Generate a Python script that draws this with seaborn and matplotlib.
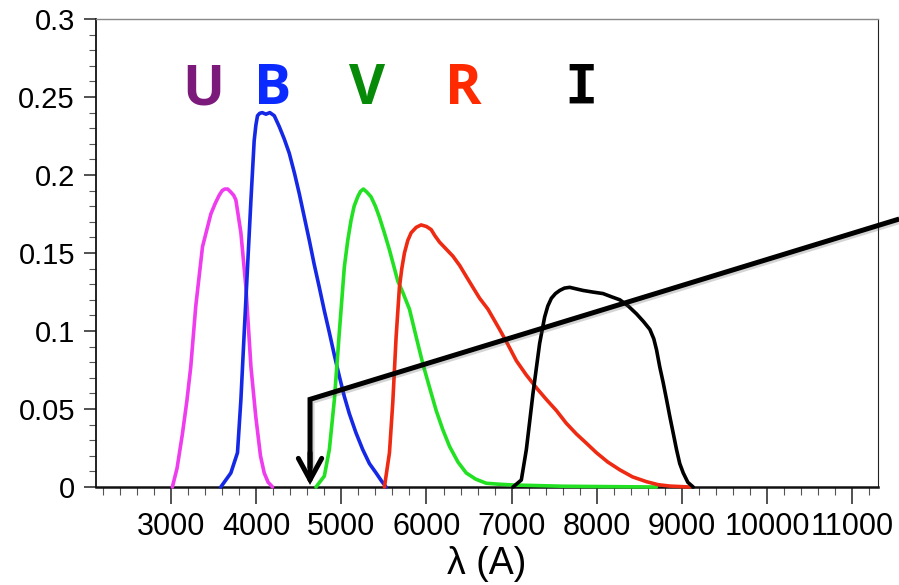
import matplotlib
matplotlib.use("Agg")
import numpy as np
import pandas as pd
import matplotlib.pyplot as plt
import matplotlib.patheffects as pe
from matplotlib.ticker import MultipleLocator, FixedLocator, FixedFormatter
import seaborn as sns

# Johnson-Cousins UBVRI filter transmission curves (wavelength in Angstrom)
u_wave = [3015, 3070, 3133, 3185, 3231, 3290, 3369, 3467, 3520, 3565, 3600, 3631, 3665, 3702, 3735, 3761,
          3820, 3879, 3938, 3995, 4050, 4094, 4140, 4192]
u_trans = [0.0, 0.012, 0.034, 0.055, 0.077, 0.116, 0.154, 0.175, 0.182, 0.187, 0.190, 0.191, 0.191, 0.189,
           0.187, 0.184, 0.163, 0.128, 0.077, 0.045, 0.020, 0.009, 0.003, 0.0]

b_wave = [3584, 3702, 3780, 3820, 3859, 3898, 3938, 3976, 3996, 4015, 4040, 4070, 4114, 4160, 4212, 4271,
          4330, 4388, 4450, 4506, 4565, 4624, 4680, 4741, 4800, 4859, 4920, 4976, 5035, 5094, 5170, 5251,
          5330, 5408, 5470, 5525]
b_trans = [0.0, 0.009, 0.022, 0.056, 0.099, 0.141, 0.184, 0.222, 0.232, 0.238, 0.2395, 0.240, 0.239, 0.240,
           0.238, 0.231, 0.223, 0.214, 0.201, 0.188, 0.173, 0.158, 0.143, 0.128, 0.113, 0.099, 0.084, 0.071,
           0.058, 0.047, 0.035, 0.024, 0.015, 0.009, 0.004, 0.0]

v_wave = [4702, 4800, 4859, 4918, 4976, 5035, 5075, 5114, 5150, 5192, 5225, 5259, 5300, 5349, 5400, 5447,
          5505, 5565, 5663, 5720, 5800, 5880, 5957, 6035, 6114, 6190, 6271, 6370, 6467, 6580, 6702, 6850,
          7016, 7600, 8700]
v_trans = [0.0, 0.007, 0.024, 0.056, 0.099, 0.141, 0.158, 0.171, 0.180, 0.186, 0.1895, 0.191, 0.189, 0.186,
           0.180, 0.173, 0.163, 0.152, 0.132, 0.125, 0.114, 0.096, 0.079, 0.064, 0.049, 0.037, 0.026, 0.016,
           0.009, 0.005, 0.0024, 0.0018, 0.0013, 0.0005, 0.0]

r_wave = [5506, 5565, 5604, 5643, 5682, 5710, 5741, 5780, 5820, 5880, 5937, 6000, 6055, 6100, 6153, 6310,
          6390, 6467, 6545, 6624, 6722, 6859, 6950, 7055, 7170, 7300, 7410, 7526, 7640, 7761, 7880, 7996,
          8130, 8271, 8420, 8585, 8720, 8859, 9094]
r_trans = [0.0, 0.022, 0.054, 0.096, 0.128, 0.140, 0.150, 0.158, 0.163, 0.1665, 0.168, 0.167, 0.165, 0.161,
           0.157, 0.148, 0.142, 0.135, 0.128, 0.121, 0.114, 0.101, 0.092, 0.081, 0.072, 0.063, 0.056, 0.049,
           0.041, 0.034, 0.028, 0.022, 0.016, 0.011, 0.0065, 0.0034, 0.0015, 0.0006, 0.0]

i_wave = [7016, 7114, 7173, 7210, 7251, 7290, 7329, 7388, 7425, 7467, 7515, 7565, 7620, 7682, 7760, 7839,
          7950, 8074, 8170, 8271, 8370, 8467, 8550, 8624, 8670, 8702, 8740, 8780, 8820, 8859, 8900, 8937,
          8975, 9016, 9070, 9133]
i_trans = [0.0, 0.0045, 0.024, 0.041, 0.060, 0.076, 0.092, 0.109, 0.116, 0.121, 0.124, 0.126, 0.1275, 0.128,
           0.127, 0.126, 0.125, 0.124, 0.122, 0.120, 0.116, 0.111, 0.106, 0.101, 0.095, 0.088, 0.077, 0.067,
           0.056, 0.045, 0.034, 0.024, 0.015, 0.009, 0.003, 0.0]

bands = ["U", "B", "V", "R", "I"]
curve_colors = ["#ee3cee", "#1428e6", "#22e022", "#ee2a12", "#000000"]
label_colors = ["#7b1a7b", "#0a2aff", "#078a07", "#ff2a00", "#000000"]
label_x = [3375, 4197, 5301, 6428, 7814]
label_y = 0.2455

xtick_values = [3000, 4000, 5000, 6000, 7000, 8000, 9000, 10000, 11000]
xtick_labels = ["3000", "4000", "5000", "6000", "7000", "8000", "9000", "10000", "11000"]
ytick_values = [0, 0.05, 0.1, 0.15, 0.2, 0.25, 0.3]
ytick_labels = ["0", "0.05", "0.1", "0.15", "0.2", "0.25", "0.3"]

# pointer: corner at the blue/green overlap, arrow down to the axis, long line off to the right
pointer_x = [11553, 4632, 4632]
pointer_y = [0.1718, 0.0562, 0.012]
arrow_tip = (4632, 0.0013)

frames = []
for band, w, t in zip(bands, [u_wave, b_wave, v_wave, r_wave, i_wave],
                      [u_trans, b_trans, v_trans, r_trans, i_trans]):
    frames.append(pd.DataFrame({"wavelength": w, "transmission": t, "band": band}))
df = pd.concat(frames, ignore_index=True)

sns.set_style("white")
plt.rcParams["font.family"] = ["Liberation Sans", "DejaVu Sans"]
plt.rcParams["text.color"] = "black"
plt.rcParams["xtick.color"] = "black"
plt.rcParams["ytick.color"] = "black"
plt.rcParams["axes.labelcolor"] = "black"

fig = plt.figure(figsize=(8.99, 5.85), dpi=100)
ax = fig.add_axes([0.1065, 0.1675, 0.9763 - 0.1065, 0.9675 - 0.1675])

sns.lineplot(data=df, x="wavelength", y="transmission", hue="band", hue_order=bands,
             palette=dict(zip(bands, curve_colors)), sort=False, estimator=None,
             linewidth=2.6, legend=False, ax=ax, clip_on=False, zorder=5,
             solid_joinstyle="round", solid_capstyle="round")

ax.set_xlim(2115, 11300)
ax.set_ylim(0, 0.3)

ax.xaxis.set_major_locator(FixedLocator(xtick_values))
ax.xaxis.set_major_formatter(FixedFormatter(xtick_labels))
ax.xaxis.set_minor_locator(MultipleLocator(200))
ax.yaxis.set_major_locator(FixedLocator(ytick_values))
ax.yaxis.set_major_formatter(FixedFormatter(ytick_labels))
ax.yaxis.set_minor_locator(MultipleLocator(0.01))

ax.tick_params(axis="x", which="major", direction="out", length=12, width=1.2, color="#333333",
               labelcolor="black", labelsize=22, pad=6, bottom=True)
ax.tick_params(axis="x", which="minor", direction="out", length=6, width=0.8, color="#555555", bottom=True)
ax.tick_params(axis="y", which="major", direction="out", length=9, width=1.2, color="#333333",
               labelcolor="black", labelsize=21, pad=6, left=True)
ax.tick_params(axis="y", which="minor", direction="out", length=5, width=0.8, color="#555555", left=True)

for side in ["left", "bottom", "right", "top"]:
    ax.spines[side].set_visible(True)
ax.spines["left"].set_color("#111111")
ax.spines["left"].set_linewidth(1.3)
ax.spines["bottom"].set_color("#111111")
ax.spines["bottom"].set_linewidth(1.8)
ax.spines["right"].set_color("#222222")
ax.spines["right"].set_linewidth(0.8)
ax.spines["top"].set_color("#888888")
ax.spines["top"].set_linewidth(1.0)

ax.set_xlabel("λ (A)", fontsize=27, labelpad=3, color="black")
ax.set_ylabel("")

for band, color, x in zip(bands, label_colors, label_x):
    if band == "I":
        ax.text(x, label_y, band, color=color, fontsize=40, fontweight="bold",
                family=["DejaVu Sans Mono"], ha="center", va="baseline")
    else:
        ax.text(x, label_y, band, color=color, fontsize=40, fontweight="bold",
                family=["Open Sans", "DejaVu Sans"], ha="center", va="baseline")

shadow = [pe.SimpleLineShadow(offset=(1.5, -1.5), alpha=0.25, shadow_color="#555555"), pe.Normal()]
ax.plot(pointer_x, pointer_y, color="black", linewidth=3.6, solid_joinstyle="miter",
        solid_capstyle="butt", clip_on=False, zorder=8, path_effects=shadow)
ax.annotate("", xy=arrow_tip, xytext=(pointer_x[-1], pointer_y[-1] + 0.01),
            arrowprops=dict(arrowstyle="->,head_length=0.55,head_width=0.3", color="black",
                            linewidth=3.6, mutation_scale=28, shrinkA=0, shrinkB=0,
                            joinstyle="miter", capstyle="round"),
            zorder=8, annotation_clip=False)

fig.savefig("out.png", dpi=100)
